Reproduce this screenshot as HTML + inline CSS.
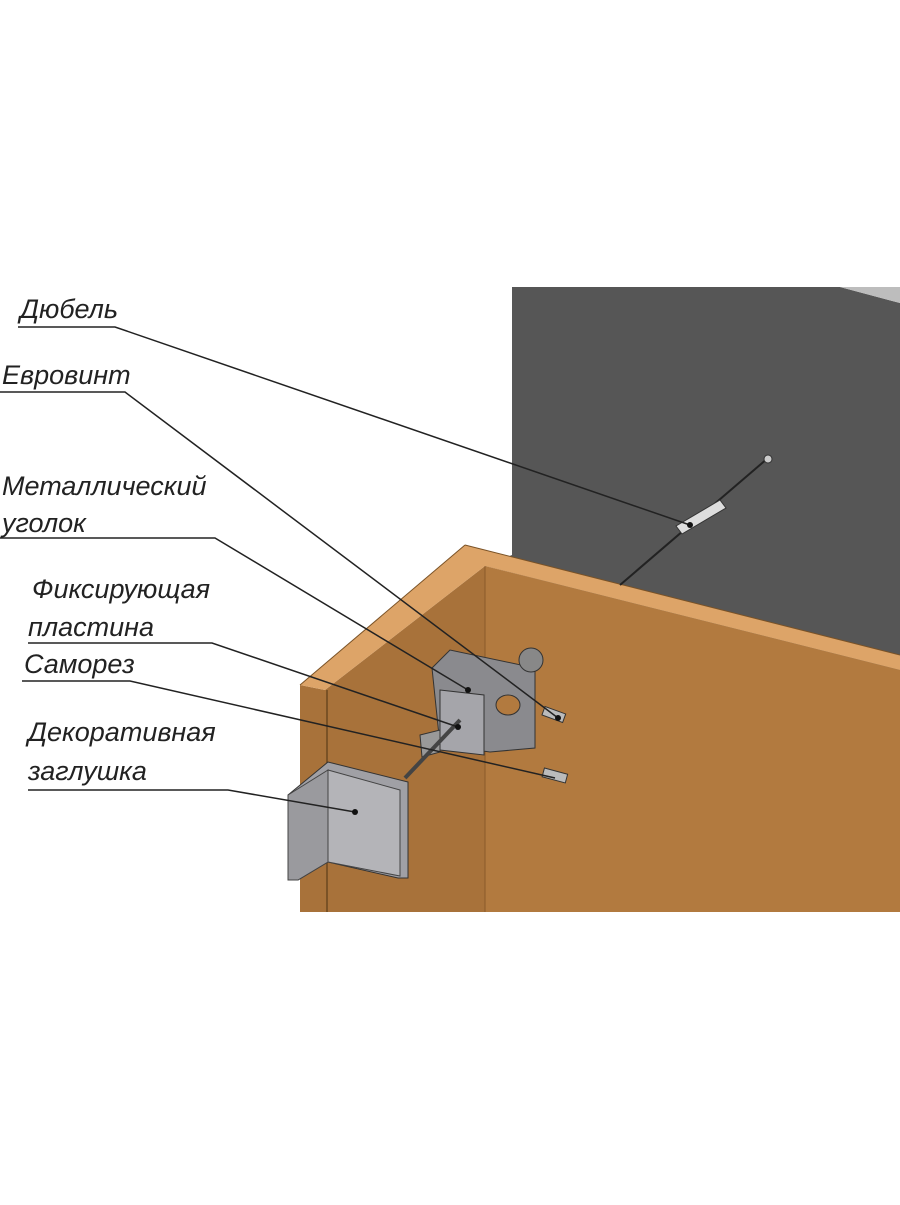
<!DOCTYPE html>
<html><head><meta charset="utf-8"><style>
body{margin:0;background:#fff}
svg text{font-family:"Liberation Sans","DejaVu Sans",sans-serif;font-style:italic;font-size:27px;fill:#222}
</style></head><body>
<svg width="900" height="1200" viewBox="0 0 900 1200" xmlns="http://www.w3.org/2000/svg">
<rect width="900" height="1200" fill="#fff"/>
<!-- wall -->
<polygon points="512,287 840,287 900,303 900,672 485,566 512,555" fill="#565656"/>
<polygon points="840,287 900,287 900,303" fill="#bdbdbd"/>
<!-- front face -->
<polygon points="485,566 900,670 900,912 485,912" fill="#b27a3f"/>
<!-- left face -->
<polygon points="300,685 325,690 485,566 485,912 300,912" fill="#a8723a"/>
<line x1="327" y1="690" x2="327" y2="912" stroke="#6b4720" stroke-width="1.5"/>
<line x1="485" y1="566" x2="485" y2="912" stroke="#8a5a2a" stroke-width="1"/>
<!-- top edge -->
<polygon points="300,685 465,545 900,655 900,670 485,566 325,690" fill="#dda468"/>
<line x1="465" y1="545" x2="900" y2="655" stroke="#7a5226" stroke-width="1"/>
<polyline points="300,685 465,545" stroke="#7a5226" fill="none" stroke-width="1"/>
<!-- dowel rod -->
<line x1="768" y1="458" x2="620" y2="585" stroke="#222" stroke-width="2"/>
<circle cx="768" cy="459" r="4" fill="#ccc" stroke="#333"/>
<polygon points="676,526 720,500 726,508 682,534" fill="#ddd" stroke="#333"/>
<!-- bracket -->
<polygon points="432,668 450,650 535,668 535,748 490,752 440,745" fill="#8a8a8e" stroke="#333"/>
<polygon points="440,690 484,695 484,755 440,750" fill="#a5a5aa" stroke="#333"/>
<ellipse cx="508" cy="705" rx="12" ry="10" fill="#b27a3f" stroke="#333"/>
<circle cx="531" cy="660" r="12" fill="#888" stroke="#333"/>
<polygon points="420,735 440,730 440,752 422,757" fill="#999" stroke="#333"/>
<line x1="460" y1="720" x2="405" y2="778" stroke="#444" stroke-width="4"/>
<!-- screws -->
<rect x="543" y="710" width="22" height="9" fill="#bbb" stroke="#333" transform="rotate(20 554 714)"/>
<rect x="543" y="771" width="24" height="9" fill="#bbb" stroke="#333" transform="rotate(15 555 775)"/>
<!-- decorative cap -->
<polygon points="288,795 328,762 408,782 408,878 398,878 328,862 298,880 288,880" fill="#a0a0a5" stroke="#333"/>
<polygon points="328,770 400,790 400,876 328,862" fill="#b4b4b8" stroke="#444"/>
<polygon points="288,795 328,770 328,862 298,880 288,880" fill="#9a9a9e" stroke="#444"/>
<!-- labels -->
<text x="20" y="318">Дюбель</text>
<text x="2" y="384">Евровинт</text>
<text x="2" y="495">Металлический</text>
<text x="2" y="532">уголок</text>
<text x="32" y="598">Фиксирующая</text>
<text x="28" y="636">пластина</text>
<text x="24" y="673">Саморез</text>
<text x="28" y="741">Декоративная</text>
<text x="28" y="780">заглушка</text>
<g stroke="#222" stroke-width="1.5" fill="none">
<polyline points="18,327 115,327 690,525"/>
<polyline points="0,392 125,392 558,718"/>
<polyline points="0,538 215,538 468,690"/>
<polyline points="28,643 212,643 458,727"/>
<polyline points="22,681 130,681 555,778"/>
<polyline points="28,790 228,790 355,812"/>
</g>
<g fill="#111"><circle cx="690" cy="525" r="3"/><circle cx="558" cy="718" r="3"/><circle cx="468" cy="690" r="3"/><circle cx="458" cy="727" r="3"/><circle cx="355" cy="812" r="3"/></g>
</svg>
</body></html>
